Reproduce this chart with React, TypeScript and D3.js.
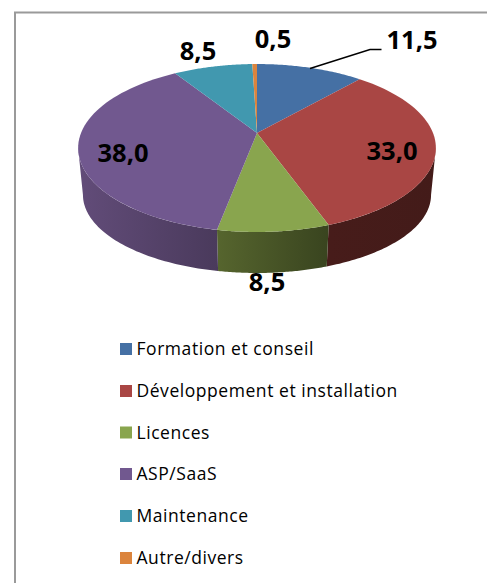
import React from "react";
import * as d3 from "d3";

const categories = ["Formation et conseil", "Développement et installation", "Licences", "ASP/SaaS", "Maintenance", "Autre/divers"];
const values = [11.5, 33.0, 8.5, 38.0, 8.5, 0.5];
const labels = ["11,5", "33,0", "8,5", "38,0", "8,5", "0,5"];
const colors = ["#4570a4", "#a94644", "#89a54e", "#71588f", "#4198af", "#db843d"];
const sideStops = [
  ["#2d4a6d", "#2d4a6d"],
  ["#471c1a", "#431b19"],
  ["#56652e", "#39441f"],
  ["#624c79", "#4a3a5c"],
  ["#2b6575", "#2b6575"],
  ["#91572a", "#91572a"],
];
const labelPos: [number, number][] = [[412, 49], [392, 160], [267, 291], [123, 162], [198, 60], [273, 48]];
const legendY = [349, 391, 432.5, 474, 516, 558];

const W = 487, H = 583;
const cx = 257, cy = 133, R = 176, K = 81.3, P = 0.1786;
const FRONT_TOP = 232, FRONT_BOTTOM = 273;

function top(t: number): [number, number] {
  const u = Math.sin(t), v = -Math.cos(t), s = 1 / (1 - P * v);
  return [cx + R * u * s, cy + K * v * s];
}
function bottom(t: number): [number, number] {
  const [x, y] = top(t);
  return [cx + (x - cx) * 0.973, FRONT_BOTTOM - (FRONT_TOP - y) * 0.93];
}
function steps(a: number, b: number) {
  return d3.range(0, 61).map(i => a + ((b - a) * i) / 60);
}

export default function App() {
  const arcs = d3.pie<number>().sort(null)(values);
  const line = d3.line();
  const tangent = Math.acos(-P);
  const visible = (a: number, b: number): [number, number] | null => {
    const lo = Math.max(a, tangent), hi = Math.min(b, 2 * Math.PI - tangent);
    return lo < hi ? [lo, hi] : null;
  };
  return (
    <svg width={W} height={H} style={{ position: "absolute", left: 0, top: 0 }} fontFamily="'Open Sans', sans-serif">
      <defs>
        {arcs.map((d, i) => {
          const vis = visible(d.startAngle, d.endAngle);
          if (!vis) return null;
          const x1 = top(vis[0])[0], x2 = top(vis[1])[0];
          return (
            <linearGradient key={i} id={`side${i}`} gradientUnits="userSpaceOnUse" x1={Math.min(x1, x2)} x2={Math.max(x1, x2)} y1={0} y2={0}>
              <stop offset="0" stopColor={sideStops[i][0]} />
              <stop offset="1" stopColor={sideStops[i][1]} />
            </linearGradient>
          );
        })}
      </defs>
      <rect width={W} height={H} fill="#fff" />
      <path d={`M15,${H}V12.5H${W}`} fill="none" stroke="#9a9a9a" strokeWidth={2} />
      {arcs.map((d, i) => {
        const vis = visible(d.startAngle, d.endAngle);
        if (!vis) return null;
        const ts = steps(vis[0], vis[1]);
        const pts = [...ts.map(top), ...ts.slice().reverse().map(bottom)];
        return <path key={i} d={(line(pts) ?? "") + "Z"} fill={`url(#side${i})`} />;
      })}
      {arcs.map((d, i) => {
        const pts: [number, number][] = [[cx, cy], ...steps(d.startAngle, d.endAngle).map(top)];
        return <path key={i} d={(line(pts) ?? "") + "Z"} fill={colors[i]} />;
      })}
      <path d={line([[310, 68.5], [370, 49.5], [381.5, 49.5]]) ?? ""} fill="none" stroke="#000" strokeWidth={1.5} />
      {labels.map((l, i) => (
        <text key={i} x={labelPos[i][0]} y={labelPos[i][1]} textAnchor="middle" fontSize={25.5} fontWeight={700} fill="#000">{l}</text>
      ))}
      {categories.map((c, i) => (
        <g key={i}>
          <rect x={120} y={legendY[i] - 6} width={12} height={12} fill={colors[i]} />
          <text x={136.5} y={legendY[i] + 6} fontSize={17.5} letterSpacing={0.55} fill="#000">{c}</text>
        </g>
      ))}
    </svg>
  );
}
